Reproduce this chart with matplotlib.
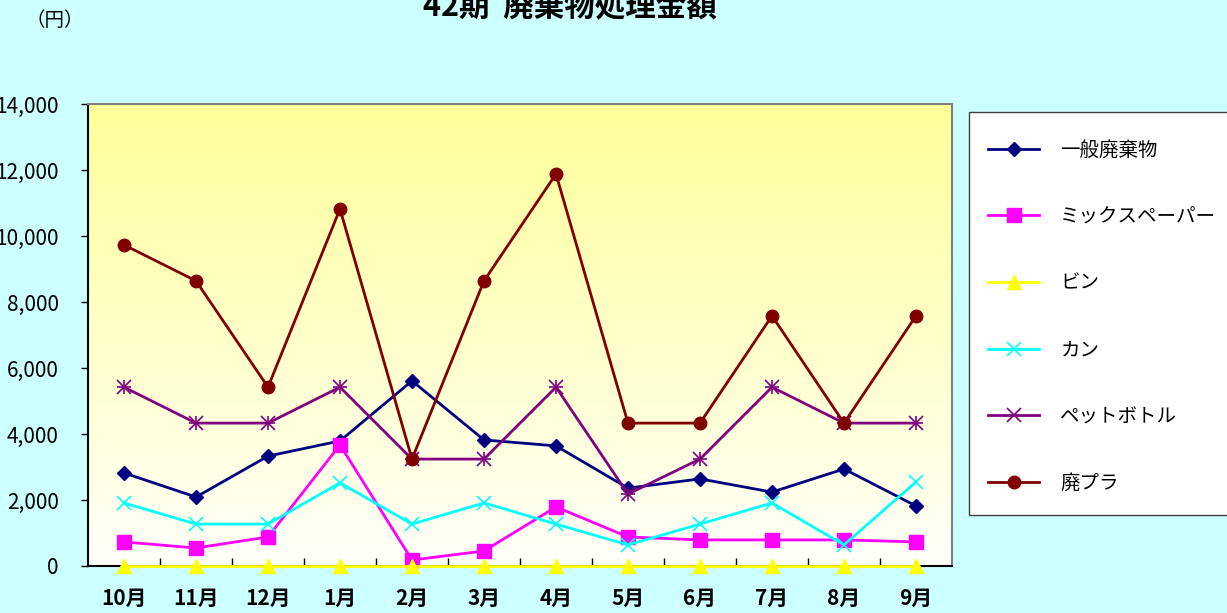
import matplotlib.pyplot as plt
import matplotlib.patches as mpatches
import numpy as np

plt.rcParams['font.family'] = ['Noto Sans CJK JP', 'DejaVu Sans']

# Data
months = ["10月", "11月", "12月", "1月", "2月", "3月", "4月", "5月", "6月", "7月", "8月", "9月"]
general = [2820, 2090, 3330, 3790, 5610, 3820, 3640, 2360, 2640, 2240, 2940, 1820]
mixed_paper = [730, 545, 880, 3670, 180, 455, 1790, 880, 790, 790, 790, 730]
bottles = [0, 0, 0, 0, 0, 0, 0, 0, 0, 0, 0, 0]
cans = [1910, 1270, 1270, 2520, 1270, 1910, 1270, 640, 1270, 1910, 640, 2550]
pet = [5420, 4330, 4330, 5420, 3240, 3240, 5420, 2180, 3240, 5420, 4330, 4330]
plastic = [9730, 8640, 5420, 10820, 3240, 8640, 11880, 4330, 4330, 7580, 4330, 7580]

series = [
    ("一般廃棄物", general, "#000080", "D", 7),
    ("ミックスペーパー", mixed_paper, "#FF00FF", "s", 10),
    ("ビン", bottles, "#FFFF00", "^", 10),
    ("カン", cans, "#00FFFF", "x", 10),
    ("ペットボトル", pet, "#800080", "x", 10),
    ("廃プラ", plastic, "#800000", "o", 9),
]

W, H = 1227, 613
fig = plt.figure(figsize=(12.27, 6.13), dpi=100)
fig.patch.set_facecolor("#CCFFFF")
ax = fig.add_axes([88/W, 47/H, 864/W, 462/H])

x = np.arange(len(months))

# Gradient plot area (yellow top -> white bottom)
grad = np.linspace(0, 1, 256).reshape(-1, 1)
top = np.array([1.0, 1.0, 0.6])
bot = np.array([1.0, 1.0, 0.98])
img = (bot + (top - bot) * grad).reshape(256, 1, 3)
ax.imshow(img, extent=[0, 1, 0, 1], origin="lower",
          aspect="auto", transform=ax.transAxes, zorder=0)

for name, vals, col, mk, ms in series:
    if name == "ペットボトル":
        ax.plot(x, vals, color=col, lw=2, marker="x", ms=ms, mew=1.2, label=name, zorder=3)
        ax.plot(x, vals, color=col, lw=0, marker="+", ms=ms, mew=1.2, zorder=3)
    elif mk == "x":
        ax.plot(x, vals, color=col, lw=2, marker=mk, ms=ms, mew=1.2, label=name, zorder=3)
    else:
        ax.plot(x, vals, color=col, lw=2, marker=mk, ms=ms, mec=col, label=name, zorder=3, clip_on=False)

ax.set_xlim(-0.5, len(months) - 0.5)
ax.set_ylim(0, 14000)
ax.set_yticks(np.arange(0, 14001, 2000))
ax.set_yticklabels([f"{v:,}" for v in range(0, 14001, 2000)], fontsize=15)
ax.set_xticks(x)
ax.set_xticklabels(months, fontsize=15, fontweight="bold")
ax.set_xticks(np.arange(0.5, len(months) - 1, 1), minor=True)
ax.tick_params(axis="x", which="major", length=0, pad=16)
ax.tick_params(axis="x", which="minor", direction="in", length=6, width=1)
ax.tick_params(axis="y", direction="out", length=5, width=1, pad=16)

for s in ["left", "bottom"]:
    ax.spines[s].set_color("black")
    ax.spines[s].set_linewidth(1.5)
for s in ["top", "right"]:
    ax.spines[s].set_color("#808080")
    ax.spines[s].set_linewidth(1.5)

# Legend box (frame drawn separately so it runs off the right edge)
frame = mpatches.Rectangle((969/W, 1 - 515/H), 300/W, 403/H, transform=fig.transFigure,
                           facecolor="white", edgecolor="#404040", lw=1.0, zorder=1)
fig.patches.append(frame)
handles, labels = ax.get_legend_handles_labels()
leg = fig.legend(handles, labels, loc="upper left",
                 bbox_to_anchor=(969/W, 1 - 523/H, 300/W, 403/H), mode="expand",
                 fontsize=14, frameon=False,
                 handlelength=2.6, handletextpad=1.1, labelspacing=2.35,
                 borderpad=1.0, borderaxespad=0)

fig.text(570/W, 1 - 15/H, "42期  廃棄物処理金額", ha="center", va="baseline",
         fontsize=22, fontweight="bold")
fig.text(55/W, 1 - 20/H, "（円）", ha="center", va="center", fontsize=14)

fig.savefig("out.png", dpi=100, facecolor=fig.get_facecolor())
